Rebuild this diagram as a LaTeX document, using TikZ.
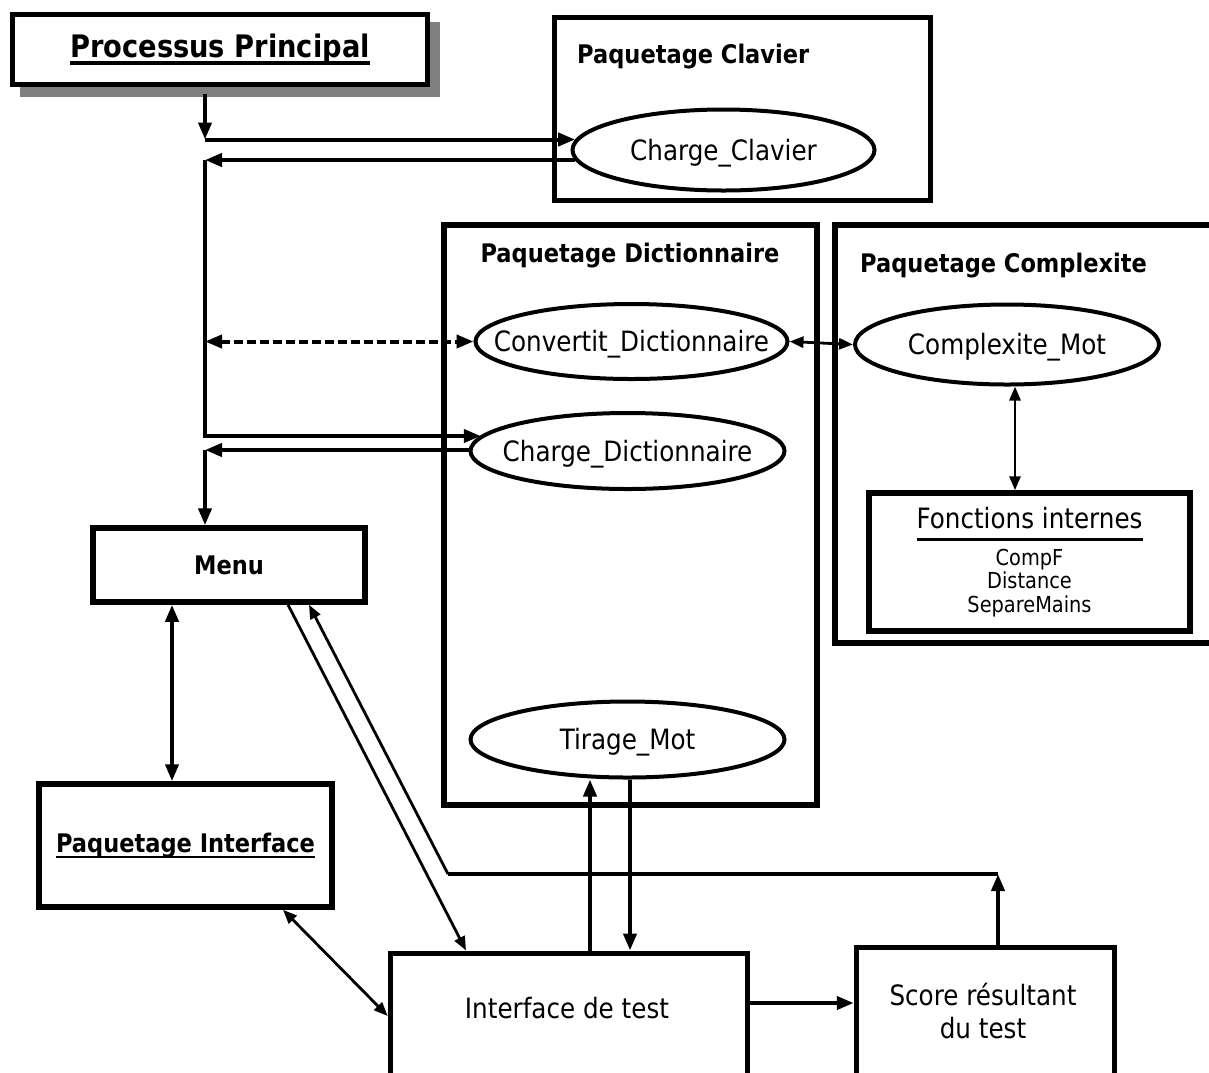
\documentclass[tikz,border=0pt]{standalone}
\usepackage{fontspec}
\setmainfont{DejaVu Sans}[FakeStretch=0.88]
\usetikzlibrary{arrows.meta,shapes.geometric,shadows,calc}
\definecolor{shadowgray}{RGB}{128,128,128}
\newcommand{\fReg}{\fontsize{28}{33}\selectfont}
\newcommand{\fBold}{\fontsize{25.6}{28}\selectfont\bfseries}
\newcommand{\fPP}{\fontsize{31}{33}\selectfont\bfseries}
\newcommand{\fSmall}{\fontsize{22}{23.5}\selectfont}
\newcommand{\myul}[3]{\setbox0=\hbox{#1}\rlap{\rule[-#2]{\wd0}{#3}}\box0}
\tikzset{
  bigtip/.tip={Triangle[length=17pt,width=13pt]},
  smalltip/.tip={Triangle[length=14pt,width=11pt]},
  box/.style={draw, rectangle, line width=5.5pt, inner sep=0pt},
  ell/.style={draw, ellipse, line width=4pt, inner xsep=-90pt, inner ysep=0pt, font=\fReg, text height=20pt, text depth=0pt},
  ttl/.style={inner sep=0pt, font=\fBold},
  lbl/.style={inner sep=0pt, font=\fReg, align=center},
  ln/.style={line width=4pt},
  lnthin/.style={line width=2.8pt},
  dotln/.style={line width=4pt, dash pattern=on 9pt off 4pt}
}
\begin{document}
\begin{tikzpicture}[x=1pt,y=-1pt]
\useasboundingbox (0,0) rectangle (1209,1072);
\fill[white] (0,0) rectangle (1209,1072);
\clip (0,0) rectangle (1209,1072);

% main process
\node[box, fill=white, minimum width=415pt, minimum height=70pt, font=\fPP,
  drop shadow={shadow xshift=10pt, shadow yshift=-10pt, fill=shadowgray, draw=shadowgray, line width=5.5pt, opacity=1}]
  (pp) at (220,49.5) {\myul{Processus Principal}{7pt}{3.5pt}};

% Paquetage Clavier
\node[box, minimum width=376pt, minimum height=183pt] (clav) at (742.5,109) {};
\node[ttl, anchor=base west] (clavt) at (577,63) {Paquetage Clavier};
\node[ell, minimum width=302pt, minimum height=81pt] (cc) at (723.5,150) {Charge\_Clavier};

% Paquetage Dictionnaire
\node[box, minimum width=373pt, minimum height=580pt] (dict) at (630.5,515) {};
\node[ttl, anchor=base] (dictt) at (630,262) {Paquetage Dictionnaire};
\node[ell, minimum width=312pt, minimum height=75pt] (conv) at (631.5,341.5) {Convertit\_Dictionnaire};
\node[ell, minimum width=314pt, minimum height=76pt] (cd) at (627.5,451) {Charge\_Dictionnaire};
\node[ell, minimum width=314pt, minimum height=76pt] (tm) at (627.5,739.5) {Tirage\_Mot};

% Paquetage Complexite (open on the right)
\node[box, minimum width=395pt, minimum height=418pt] (comp) at (1032.5,434) {};
\node[ttl, anchor=base west] (compt) at (860,272) {Paquetage Complexite};
\node[ell, minimum width=304pt, minimum height=80pt] (cm) at (1007,344.5) {Complexite\_Mot};
\node[box, minimum width=321pt, minimum height=138pt, align=center, font=\fSmall] (fonct) at (1029.5,562)
  {{\fReg\myul{Fonctions internes}{12pt}{2.5pt}}\\[7pt] CompF\\ Distance\\ SepareMains};

% left column
\node[box, minimum width=272pt, minimum height=74pt, font=\fBold] (menu) at (229,565) {Menu};
\node[box, minimum width=293pt, minimum height=123pt, font=\fBold] (pint) at (185.5,845.5) {\myul{Paquetage Interface}{6pt}{2.5pt}};

% bottom boxes
\node[box, anchor=north, minimum width=357pt, minimum height=160pt] (itest) at (569,950.5) {};
\node[lbl] (itestl) at (567,1008) {Interface de test};
\node[box, anchor=north, minimum width=258pt, minimum height=160pt] (score) at (985.5,944.5) {};
\node[lbl] (scorel) at (983,1011) {Score résultant\\du test};

% helper coordinates
\coordinate (j1) at (205,139.5);
\coordinate (j2) at (205,160);
\coordinate (j3) at (205,341.5);
\coordinate (j4) at (205,436);
\coordinate (j5) at (205,450);
\coordinate (xm) at (172,0);
\coordinate (xc) at (1015,0);
\coordinate (xs) at (283,0);
\coordinate (yt) at (0,1016);
\coordinate (xa) at (288,0);
\coordinate (xb) at (466,0);
\coordinate (xu) at (590,0);
\coordinate (xd) at (630,0);
\coordinate (ys) at (0,1003);
\coordinate (k1) at (998,874);
\coordinate (k2) at (448,874);
\coordinate (xe) at (309,0);

% connectors
\draw[ln,-bigtip] ($(pp.south -| j1)+(0,7)$) -- (j1);
\draw[ln,-bigtip] (j1) -- (j1 -| cc.176);
\draw[ln,-bigtip] (j2 -| cc.184) -- (j2);
\draw[ln,-bigtip] (j2) -- (j4) -- (j4 -| cd.174);
\draw[ln,-bigtip] (j5 -| cd.west) -- (j5);
\draw[ln,-bigtip] (j5) -- (j5 |- menu.north);
\draw[dotln,bigtip-bigtip] (j3) -- (conv.west);
\draw[lnthin,smalltip-smalltip] (conv.east) -- (cm.west);
\draw[lnthin,smalltip-smalltip] (cm.south -| xc) -- (fonct.north -| xc);
\draw[ln,bigtip-bigtip] (menu.south -| xm) -- (pint.north -| xm);
\draw[lnthin,smalltip-smalltip] (pint.south -| xs) -- (itest.west |- yt);
\draw[lnthin,-smalltip] (menu.south -| xa) -- (itest.north -| xb);
\draw[ln,-bigtip] (itest.north -| xu) -- (tm.south -| xu);
\draw[ln,-bigtip] (tm.south -| xd) -- (itest.north -| xd);
\draw[ln,-bigtip] (itest.east |- ys) -- (score.west |- ys);
\draw[ln,-bigtip] (score.north -| k1) -- (k1);
\draw[ln] (k1) -- (k2);
\draw[lnthin,-smalltip] (k2) -- (menu.south -| xe);
\end{tikzpicture}
\end{document}
